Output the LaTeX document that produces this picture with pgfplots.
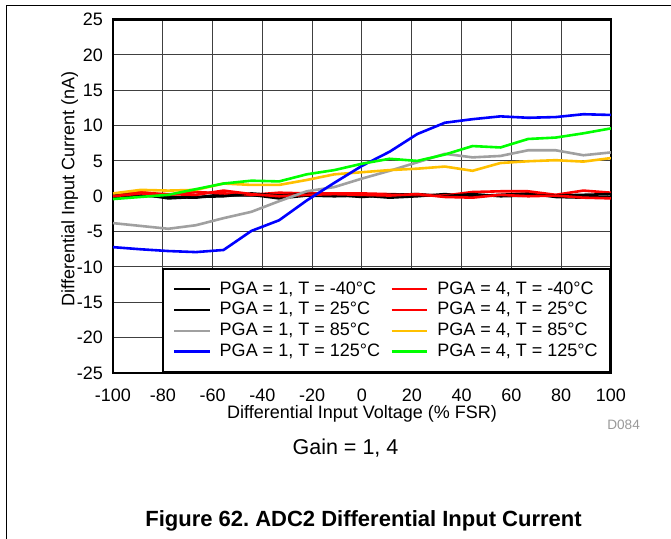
\documentclass[border=0pt]{standalone}
\usepackage{pgfplots}
\pgfplotsset{compat=1.18}
\usepackage{fontspec}
\setmainfont{Liberation Sans}
\frenchspacing
\definecolor{cgray}{HTML}{A0A0A0}
\definecolor{cyel}{HTML}{FFC000}
\definecolor{cgreen}{HTML}{00FF00}
\definecolor{cblue}{HTML}{0000FF}
\definecolor{cred}{HTML}{FF0000}
\begin{document}
\begin{tikzpicture}
\useasboundingbox (0,0) rectangle (335.5pt,269.5pt);
\draw[line width=0.5pt] (3pt,0pt) -- (3pt,266.5pt) -- (335.5pt,266.5pt);
\begin{axis}[
  at={(56.5pt,83pt)}, anchor=south west,
  scale only axis, width=249pt, height=176.75pt,
  xmin=-100, xmax=100, ymin=-25, ymax=25,
  xtick={-100,-80,...,100}, ytick={-25,-20,...,25},
  grid=major, major grid style={black!75, line width=0.5pt},
  major tick length=0pt,
  axis line style={line width=1.3pt},
  tick label style={font=\fontsize{9}{10}\selectfont},
  /pgf/number format/assume math mode=true,
  xticklabel style={yshift=-4.5pt},
  yticklabel style={xshift=-1.5pt},
  xlabel={Differential Input Voltage (\% FSR)},
  ylabel={Differential Input Current (nA)},
  label style={font=\fontsize{9}{10}\selectfont},
  xlabel style={at={(axis description cs:0.5,0)}, anchor=north, yshift=-12.5pt},
  ylabel style={at={(axis description cs:-0.087,0.52)}, anchor=center},
  legend columns=2,
  legend cell align=left,
  legend style={at={(1,0)}, anchor=south east, draw=black, line width=1pt, fill=white,
    font=\fontsize{9}{10}\selectfont, inner xsep=5pt, inner ysep=5pt,
    nodes={inner sep=1.2pt, text height=6.5pt, text depth=1.5pt},
    /tikz/every odd column/.append style={column sep=3.2pt},
    /tikz/every even column/.append style={column sep=4pt}},
  legend image code/.code={\draw[#1, line width=1.2pt] (0pt,0pt) -- (17.85pt,0pt);},
]
\addplot[black, line width=1.3pt] coordinates {(-100,-0.2) (-88.9,0.1) (-77.8,-0.1) (-66.7,-0.2) (-55.6,0.3) (-44.4,0.2) (-33.3,-0.3) (-22.2,0.1) (-11.1,0.0) (0,0.1) (11.1,-0.2) (22.2,0.0) (33.3,0.3) (44.4,0.0) (55.6,0.2) (66.7,0.4) (77.8,-0.1) (88.9,-0.2) (100,-0.1)};
\addlegendentry{PGA = 1, T = -40°C}
\addplot[cred, line width=1.3pt] coordinates {(-100,0.2) (-88.9,0.6) (-77.8,0.2) (-66.7,0.6) (-55.6,0.4) (-44.4,0.2) (-33.3,0.5) (-22.2,0.4) (-11.1,0.4) (0,0.4) (11.1,0.3) (22.2,0.2) (33.3,0.1) (44.4,0.6) (55.6,0.7) (66.7,0.7) (77.8,0.2) (88.9,0.8) (100,0.5)};
\addlegendentry{PGA = 4, T = -40°C}
\addplot[black, line width=1.3pt] coordinates {(-100,0.1) (-88.9,0.3) (-77.8,-0.3) (-66.7,-0.1) (-55.6,0.0) (-44.4,0.4) (-33.3,0.1) (-22.2,0.3) (-11.1,0.2) (0,-0.1) (11.1,0.2) (22.2,0.3) (33.3,0.0) (44.4,0.3) (55.6,0.0) (66.7,0.1) (77.8,0.1) (88.9,0.2) (100,0.3)};
\addlegendentry{PGA = 1, T = 25°C}
\addplot[cred, line width=1.3pt] coordinates {(-100,0.0) (-88.9,0.4) (-77.8,0.3) (-66.7,0.2) (-55.6,0.8) (-44.4,0.3) (-33.3,0.0) (-22.2,0.2) (-11.1,0.3) (0,0.2) (11.1,0.1) (22.2,0.3) (33.3,-0.1) (44.4,-0.2) (55.6,0.2) (66.7,0.0) (77.8,0.1) (88.9,-0.2) (100,-0.3)};
\addlegendentry{PGA = 4, T = 25°C}
\addplot[cgray, line width=1.3pt] coordinates {(-100,-3.8) (-88.9,-4.2) (-77.8,-4.6) (-66.7,-4.1) (-55.6,-3.1) (-44.4,-2.2) (-33.3,-0.7) (-22.2,0.7) (-11.1,1.3) (0,2.5) (11.1,3.6) (22.2,4.8) (33.3,6.0) (44.4,5.5) (55.6,5.7) (66.7,6.5) (77.8,6.5) (88.9,5.8) (100,6.2)};
\addlegendentry{PGA = 1, T = 85°C}
\addplot[cyel, line width=1.3pt] coordinates {(-100,0.4) (-88.9,0.9) (-77.8,0.8) (-66.7,0.9) (-55.6,1.8) (-44.4,1.6) (-33.3,1.6) (-22.2,2.3) (-11.1,3.1) (0,3.4) (11.1,3.7) (22.2,3.9) (33.3,4.2) (44.4,3.6) (55.6,4.7) (66.7,4.95) (77.8,5.1) (88.9,4.9) (100,5.4)};
\addlegendentry{PGA = 4, T = 85°C}
\addplot[cblue, line width=1.3pt] coordinates {(-100,-7.2) (-88.9,-7.5) (-77.8,-7.75) (-66.7,-7.9) (-55.6,-7.6) (-44.4,-4.9) (-33.3,-3.4) (-22.2,-0.6) (-11.1,1.9) (0,4.3) (11.1,6.3) (22.2,8.8) (33.3,10.4) (44.4,10.9) (55.6,11.3) (66.7,11.1) (77.8,11.2) (88.9,11.6) (100,11.5)};
\addlegendentry{PGA = 1, T = 125°C}
\addplot[cgreen, line width=1.3pt] coordinates {(-100,-0.4) (-88.9,-0.1) (-77.8,0.2) (-66.7,1.0) (-55.6,1.8) (-44.4,2.2) (-33.3,2.1) (-22.2,3.1) (-11.1,3.7) (0,4.6) (11.1,5.3) (22.2,5.0) (33.3,5.9) (44.4,7.1) (55.6,6.9) (66.7,8.1) (77.8,8.3) (88.9,8.9) (100,9.6)};
\addlegendentry{PGA = 4, T = 125°C}
\end{axis}
\node[font=\fontsize{10.75}{12}\selectfont] at (172.75pt,45.5pt) {Gain = 1, 4};
\node[font=\bfseries\fontsize{11}{13}\selectfont] at (181.75pt,9pt) {Figure 62. ADC2 Differential Input Current};
\node[font=\fontsize{6.8}{8}\selectfont, text=black!40] at (311.8pt,56.85pt) {D084};
\end{tikzpicture}
\end{document}
